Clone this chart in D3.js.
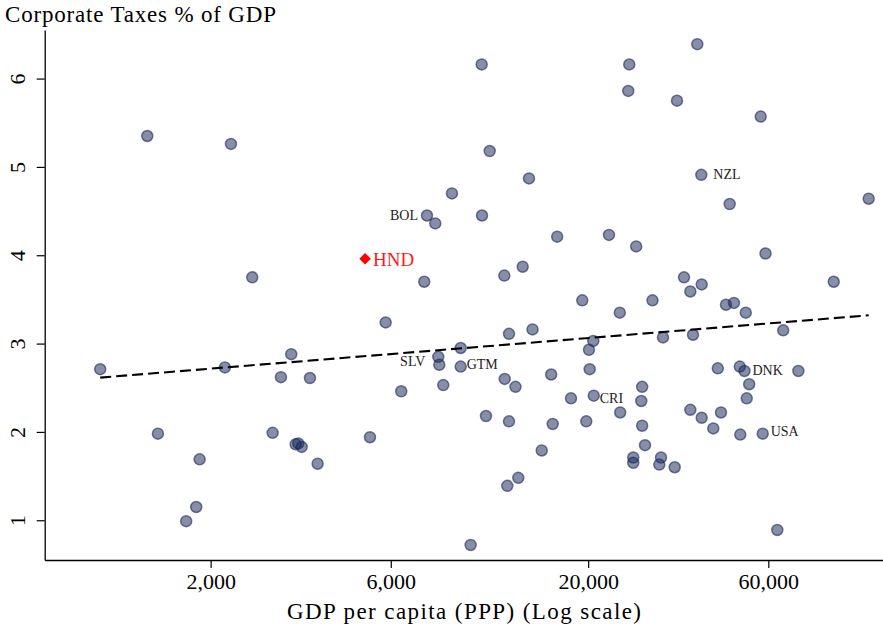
<!DOCTYPE html>
<html>
<head>
<meta charset="utf-8">
<script src="https://cdn.jsdelivr.net/npm/d3@7"></script>
<style>
  html, body { margin: 0; padding: 0; background: #fff; }
  svg { display: block; }
  text { font-family: "Liberation Serif", "DejaVu Serif", serif; }
</style>
</head>
<body>
<svg id="chart" width="883" height="628"></svg>
<script>
// ---- Data ----
const countries = [
  "", "", "", "", "", "", "", "", "", "",
  "", "", "", "", "", "", "", "", "", "",
  "", "BOL", "", "", "SLV", "", "", "", "GTM", "",
  "", "", "", "", "", "", "", "", "", "",
  "", "", "", "", "", "", "", "", "", "",
  "", "", "", "", "CRI", "", "", "", "", "",
  "", "", "", "", "", "", "", "", "", "",
  "", "", "", "", "", "", "", "", "NZL", "",
  "", "", "", "", "", "", "", "", "", "",
  "DNK", "", "", "", "USA", "", "", "", "", "",
  ""
];
const gdpPerCapita = [1020, 1359, 1450, 1723, 1832, 1870, 2264, 2182, 2578, 2919, 3071, 3270, 3360, 3414, 3485, 3665, 3841, 5285, 5816, 6396,
  7360, 7484, 7871, 8016, 8066, 8265, 8714, 9191, 9191, 9766, 10447, 10467, 10725, 10970, 11992, 12020, 12339, 12339, 12212, 12838,
  13059, 13415, 13941, 14243, 15067, 15960, 16108, 16555, 18011, 19293, 19771, 20098, 20184, 20632, 20694, 22704, 24250, 24311, 25696, 25537,
  26331, 26331, 26802, 27800, 27646, 27800, 28284, 29604, 31184, 30860, 31564, 33900, 34380, 35882, 37292, 37292, 37906, 38908, 39870, 39968,
  39968, 42898, 44088, 44960, 46348, 47404, 48662, 50420, 50570, 52298, 51884, 52598, 53402, 57282, 57986, 58982, 63378, 65708, 72068, 89422, 110670];
const corpTaxes = [2.71, 5.35, 1.98, 0.99, 1.15, 1.69, 5.26, 2.73, 3.75, 1.99, 2.62, 2.88, 1.86, 1.87, 1.83, 2.61, 1.64, 1.94, 3.24, 2.46,
  3.70, 4.45, 4.36, 2.85, 2.76, 2.53, 4.70, 2.95, 2.74, 0.72, 6.16, 4.45, 2.18, 5.18, 3.77, 2.60, 2.12, 3.11, 1.39, 2.51,
  1.48, 3.87, 4.87, 3.16, 1.79, 2.65, 2.09, 4.21, 2.38, 3.49, 2.12, 2.93, 2.71, 3.03, 2.41, 4.23, 3.35, 2.22, 6.16, 5.86,
  1.71, 1.65, 4.10, 2.51, 2.35, 2.07, 1.85, 3.49, 1.71, 1.63, 3.07, 1.60, 5.75, 3.75, 3.59, 2.25, 3.10, 6.39, 4.91, 3.67,
  2.16, 2.04, 2.72, 2.22, 3.44, 4.58, 3.46, 2.74, 1.97, 3.35, 2.69, 2.38, 2.54, 5.57, 1.98, 4.02, 0.89, 3.15, 2.69, 3.70, 4.64];
const labelSide = {"BOL": "left", "SLV": "left", "GTM": "right", "CRI": "right", "NZL": "right", "DNK": "right", "USA": "right"};

const highlightName = "HND";
const highlightGdp = 5130;
const highlightTax = 3.96;

// Linear fit (tax on log GDP) values at the ends of the data range
const fitTaxAtEnds = [2.615, 3.32];

const xTickValues = [2000, 6000, 20000, 60000];
const yTickValues = [1, 2, 3, 4, 5, 6];
const xDomain = [727, 120760];
const yDomain = [0.55, 6.55];

const titleText = "Corporate Taxes % of GDP";
const xLabelText = "GDP per capita (PPP) (Log scale)";

// ---- Layout / style ----
const labelGap = {"BOL": 9, "SLV": 14, "GTM": 6, "CRI": 6, "NZL": 12, "DNK": 8, "USA": 8};
const labelDy = {"BOL": 0, "SLV": -3, "GTM": -2, "CRI": 3, "NZL": 0, "DNK": 0, "USA": -1.5};

const svg = d3.select("#chart");
const plotLeft = 44.7, plotRight = 883, plotTop = 30, plotBottom = 560;

const x = d3.scaleLog().domain(xDomain).range([plotLeft, plotRight]);
const y = d3.scaleLinear().domain(yDomain).range([plotBottom, plotTop]);

const points = gdpPerCapita.map((g, i) => ({gdp: g, tax: corpTaxes[i], name: countries[i] || ""}));

// Title
svg.append("text")
  .attr("x", 5).attr("y", 22)
  .attr("font-size", 23)
  .attr("textLength", 271)
  .attr("lengthAdjust", "spacing")
  .attr("fill", "#000")
  .text(titleText);

// Axes
const xAxis = d3.axisBottom(x)
  .tickValues(xTickValues)
  .tickFormat(d3.format(",d"))
  .tickSizeInner(8).tickSizeOuter(0).tickPadding(5);
const gx = svg.append("g")
  .attr("transform", `translate(0,${plotBottom})`)
  .call(xAxis);
gx.select(".domain").attr("stroke", "#000").attr("stroke-width", 1.3);
gx.selectAll(".tick line").attr("stroke", "#000").attr("stroke-width", 1.2);
gx.selectAll(".tick text")
  .attr("font-family", "Liberation Serif, serif")
  .attr("font-size", 22)
  .attr("fill", "#000");

const yAxis = d3.axisLeft(y)
  .tickValues(yTickValues)
  .tickFormat(d3.format("d"))
  .tickSizeInner(8).tickSizeOuter(0);
const gy = svg.append("g")
  .attr("transform", `translate(${plotLeft},0)`)
  .call(yAxis);
gy.select(".domain").attr("stroke", "#000").attr("stroke-width", 1.3);
gy.selectAll(".tick line").attr("stroke", "#000").attr("stroke-width", 1.2);
gy.selectAll(".tick text")
  .attr("font-family", "Liberation Serif, serif")
  .attr("font-size", 22)
  .attr("fill", "#000")
  .attr("x", 0).attr("dy", 0).attr("y", 0)
  .attr("text-anchor", "middle")
  .attr("transform", "translate(-20,0) rotate(-90)");

// X label
svg.append("text")
  .attr("x", 287)
  .attr("y", 619)
  .attr("font-size", 23)
  .attr("textLength", 354)
  .attr("lengthAdjust", "spacing")
  .attr("fill", "#000")
  .text(xLabelText);

// Points
svg.append("g").selectAll("circle")
  .data(points)
  .join("circle")
  .attr("cx", d => x(d.gdp))
  .attr("cy", d => y(d.tax))
  .attr("r", 5.5)
  .attr("fill", "rgba(26,42,90,0.53)")
  .attr("stroke", "rgba(26,42,90,0.6)")
  .attr("stroke-width", 1.5);

// Fit line
const gdpExtent = d3.extent(gdpPerCapita);
const fitData = [
  {gdp: gdpExtent[0], tax: fitTaxAtEnds[0]},
  {gdp: gdpExtent[1], tax: fitTaxAtEnds[1]}
];
svg.append("path")
  .datum(fitData)
  .attr("d", d3.line().x(d => x(d.gdp)).y(d => y(d.tax)))
  .attr("fill", "none")
  .attr("stroke", "#000")
  .attr("stroke-width", 2.1)
  .attr("stroke-dasharray", "11,5");

// Country labels
svg.append("g").selectAll("text")
  .data(points.filter(d => d.name))
  .join("text")
  .attr("x", d => x(d.gdp) + (labelSide[d.name] === "left" ? -labelGap[d.name] : labelGap[d.name]))
  .attr("y", d => y(d.tax) + 4 + labelDy[d.name])
  .attr("text-anchor", d => labelSide[d.name] === "left" ? "end" : "start")
  .attr("font-size", 14)
  .attr("fill", "#222")
  .text(d => d.name);

// Highlighted country
const hx = x(highlightGdp), hy = y(highlightTax);
svg.append("path")
  .attr("d", d3.symbol().type(d3.symbolDiamond2).size(85)())
  .attr("transform", `translate(${hx},${hy})`)
  .attr("fill", "#ff0000");
svg.append("text")
  .attr("x", hx + 8)
  .attr("y", hy + 7)
  .attr("font-size", 19)
  .attr("fill", "#ff1a1a")
  .text(highlightName);
</script>
</body>
</html>
